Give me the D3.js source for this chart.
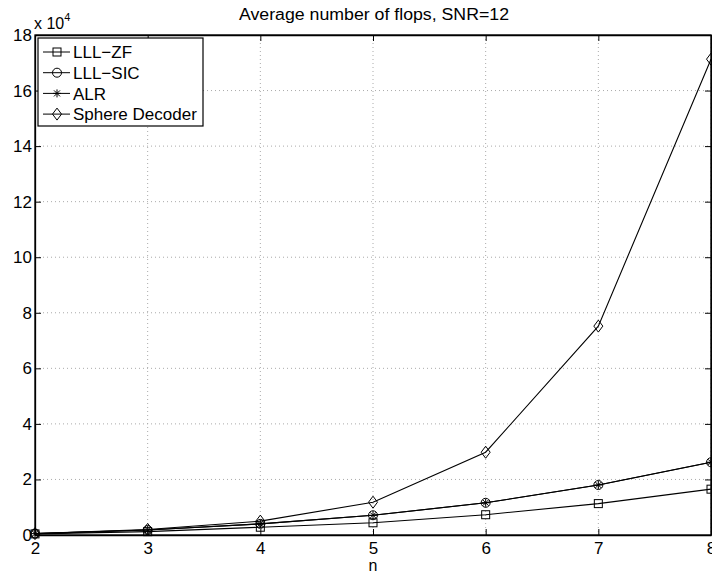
<!DOCTYPE html>
<html><head><meta charset="utf-8">
<script src="https://cdn.jsdelivr.net/npm/d3@7"></script>
<style>body{margin:0;background:#fff}svg{display:block}text{font-family:"Liberation Sans",Arial,sans-serif}</style>
</head><body>
<svg id="c" width="712" height="575"></svg>
<script>
const nValues = [2, 3, 4, 5, 6, 7, 8];
const lllZF = [0.04, 0.12, 0.28, 0.44, 0.73, 1.13, 1.65];
const lllSIC = [0.05, 0.18, 0.40, 0.71, 1.16, 1.80, 2.62];
const alr = [0.05, 0.18, 0.40, 0.71, 1.16, 1.80, 2.62];
const sphere = [0.05, 0.20, 0.50, 1.18, 2.98, 7.52, 17.13];
const xTicks = [2, 3, 4, 5, 6, 7, 8];
const yTicks = [0, 2, 4, 6, 8, 10, 12, 14, 16, 18];
const seriesNames = ["LLL\u2212ZF", "LLL\u2212SIC", "ALR", "Sphere Decoder"];
const seriesMarkers = ["square", "circle", "star", "diamond"];

const svg = d3.select("#c");
const L = 35, R = 711, T = 35, B = 535;
const x = d3.scaleLinear().domain([2, 8]).range([L, R]);
const y = d3.scaleLinear().domain([0, 18]).range([B, T]);

// grid
const g = svg.append("g");
g.selectAll(".vg").data(xTicks.slice(1)).join("line")
  .attr("x1", d => x(d)).attr("x2", d => x(d)).attr("y1", T).attr("y2", B)
  .attr("stroke", "#aaa").attr("stroke-width", 1).attr("stroke-dasharray", "1,3");
g.selectAll(".hg").data(yTicks.slice(1, -1)).join("line")
  .attr("y1", d => y(d)).attr("y2", d => y(d)).attr("x1", L).attr("x2", R)
  .attr("stroke", "#aaa").attr("stroke-width", 1).attr("stroke-dasharray", "1,3");

// axes
const fs = 17;
const xa = svg.append("g").attr("transform", `translate(0,${B})`)
  .call(d3.axisBottom(x).tickValues(xTicks).tickFormat(d3.format("d")).tickSizeInner(-6).tickSizeOuter(0).tickPadding(7));
const ya = svg.append("g").attr("transform", `translate(${L},0)`)
  .call(d3.axisLeft(y).tickValues(yTicks).tickFormat(d3.format("d")).tickSizeInner(-6).tickSizeOuter(0).tickPadding(3));
svg.append("g").attr("transform", `translate(0,${T})`)
  .call(d3.axisTop(x).tickValues(xTicks).tickSizeInner(-6).tickSizeOuter(0).tickFormat(""));
svg.append("g").attr("transform", `translate(${R},0)`)
  .call(d3.axisRight(y).tickValues(yTicks).tickSizeInner(-6).tickSizeOuter(0).tickFormat(""));
svg.selectAll(".domain").attr("stroke", "#000").attr("stroke-width", 1.3);
svg.selectAll(".tick line").attr("stroke", "#000");
svg.selectAll(".tick text").attr("font-size", fs).attr("fill", "#000").style("font-family", "'Liberation Sans',Arial,sans-serif");
xa.selectAll(".tick text").attr("dy", "0.71em");

// box border
svg.append("rect").attr("x", L).attr("y", T).attr("width", R - L).attr("height", B - T)
  .attr("fill", "none").attr("stroke", "#000").attr("stroke-width", 1.3);

// markers
function drawMarker(sel, type) {
  if (type === "square") sel.append("rect").attr("x", -4).attr("y", -4).attr("width", 8).attr("height", 8).attr("fill", "none").attr("stroke", "#000");
  else if (type === "circle") sel.append("circle").attr("r", 4.5).attr("fill", "none").attr("stroke", "#000");
  else if (type === "diamond") sel.append("path").attr("d", "M0,-6L4.5,0L0,6L-4.5,0Z").attr("fill", "none").attr("stroke", "#000");
  else if (type === "star") sel.append("path").attr("d", "M-4,0H4M0,-4V4M-3,-3L3,3M-3,3L3,-3").attr("fill", "none").attr("stroke", "#000");
}

const allSeries = [lllZF, lllSIC, alr, sphere];
const line = d3.line().x((d, i) => x(nValues[i])).y(d => y(d));
allSeries.forEach((s, k) => {
  svg.append("path").datum(s).attr("d", line).attr("fill", "none").attr("stroke", "#000").attr("stroke-width", 1.1);
  s.forEach((v, i) => {
    const m = svg.append("g").attr("transform", `translate(${x(nValues[i])},${y(v)})`);
    drawMarker(m, seriesMarkers[k]);
  });
});

// title
svg.append("text").attr("x", 374).attr("y", 20).attr("text-anchor", "middle")
  .attr("font-size", 16).attr("textLength", 270).attr("lengthAdjust", "spacingAndGlyphs")
  .text("Average number of flops, SNR=12");
// x label
svg.append("text").attr("x", (L + R) / 2).attr("y", 571).attr("text-anchor", "middle")
  .attr("font-size", 16).text("n");
// exponent
const ex = svg.append("text").attr("x", 34).attr("y", 29).attr("font-size", 16);
ex.append("tspan").text("x 10");
ex.append("tspan").attr("dy", -8).attr("font-size", 11).text("4");

// legend
const lg = svg.append("g");
lg.append("rect").attr("x", 38).attr("y", 38).attr("width", 165).attr("height", 88)
  .attr("fill", "#fff").attr("stroke", "#000").attr("stroke-width", 1.2);
seriesNames.forEach((name, k) => {
  const yy = 52 + k * 20.7;
  lg.append("line").attr("x1", 43).attr("x2", 70).attr("y1", yy).attr("y2", yy).attr("stroke", "#000");
  drawMarker(lg.append("g").attr("transform", `translate(57,${yy})`), seriesMarkers[k]);
  lg.append("text").attr("x", 73).attr("y", yy).attr("dy", "0.36em").attr("font-size", 17).text(name);
});
</script>
</body></html>
